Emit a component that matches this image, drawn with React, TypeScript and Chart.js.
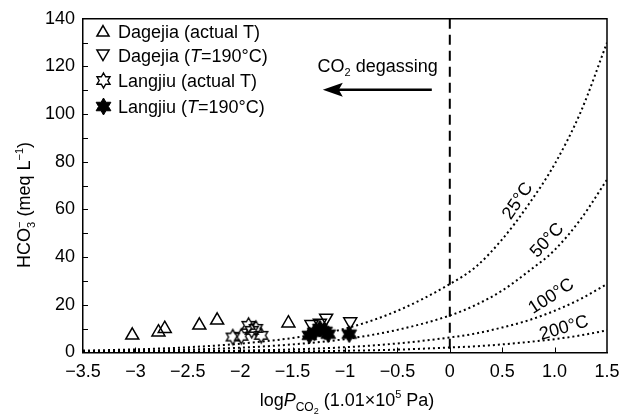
import React, { useEffect, useRef } from 'react';
import { Chart, registerables } from 'chart.js';

Chart.register(...registerables);

// ---- Data ----
const curveX = [-3.5, -3, -2.5, -2, -1.5, -1, -0.5, 0, 0.25, 0.5, 0.75, 1, 1.25, 1.5];
const curve25 = [0.8, 1.3, 2.2, 3.7, 6.1, 10, 17.5, 28.7, 36, 47.5, 62, 79, 101, 130];
const curve50 = [0.45, 0.7, 1.2, 2.0, 3.4, 5.6, 9.5, 15.5, 20, 26, 34, 43, 56, 72.5];
const curve100 = [0.2, 0.3, 0.5, 0.8, 1.3, 2.2, 3.8, 6.3, 8, 10.5, 13.5, 17.5, 22.5, 28.7];
const curve200 = [0.06, 0.1, 0.16, 0.27, 0.45, 0.73, 1.2, 2.1, 2.6, 3.4, 4.4, 5.6, 7.2, 9.3];
const curveLabels = ['25°C', '50°C', '100°C', '200°C'];

const dagejiaActualX = [-3.03, -2.78, -2.72, -2.39, -2.22, -1.54];
const dagejiaActualY = [7.2, 8.5, 10.0, 11.4, 13.5, 12.3];
const dagejia190X = [-1.32, -1.24, -1.18, -0.95];
const dagejia190Y = [11.8, 12.4, 14.5, 13.0];
const langjiuActualX = [-2.07, -1.99, -1.92, -1.89, -1.85, -1.80];
const langjiuActualY = [6.5, 6.8, 11.4, 9.3, 10.1, 7.2];
const langjiu190X = [-1.34, -1.29, -1.24, -1.19, -1.16, -0.96];
const langjiu190Y = [7.2, 8.5, 10.1, 8.9, 7.7, 7.7];

const seriesNames = ['Dagejia (actual T)', 'Dagejia (T=190°C)', 'Langjiu (actual T)', 'Langjiu (T=190°C)'];

const xTicks = [-3.5, -3, -2.5, -2, -1.5, -1, -0.5, 0, 0.5, 1, 1.5];
const xTickLabels = ['−3.5', '−3', '−2.5', '−2', '−1.5', '−1', '−0.5', '0', '0.5', '1.0', '1.5'];
const yTicks = [0, 20, 40, 60, 80, 100, 120, 140];
const yMinorTicks = [10, 20, 30, 40, 50, 60, 70, 80, 90, 100, 110, 120, 130];

const FAMILY = '"Liberation Sans", Arial, Helvetica, sans-serif';
const FS = 18;

type Seg = { t: string; size: number; italic?: boolean; dy?: number; noAdvance?: boolean };

function fontStr(s: Seg) {
  return `${s.italic ? 'italic ' : ''}${s.size}px ${FAMILY}`;
}
function segsWidth(ctx: CanvasRenderingContext2D, segs: Seg[]) {
  let w = 0;
  for (const s of segs) {
    ctx.font = fontStr(s);
    if (!s.noAdvance) w += ctx.measureText(s.t).width;
  }
  return w;
}
function drawSegs(ctx: CanvasRenderingContext2D, segs: Seg[], x: number, y: number) {
  let cx = x;
  for (const s of segs) {
    ctx.font = fontStr(s);
    ctx.fillText(s.t, cx, y + (s.dy || 0));
    if (!s.noAdvance) cx += ctx.measureText(s.t).width;
  }
}

function starPath(ctx: CanvasRenderingContext2D, cx: number, cy: number, R: number) {
  const r = R / Math.sqrt(3);
  ctx.beginPath();
  for (let i = 0; i < 12; i++) {
    const ang = -Math.PI / 2 + (i * Math.PI) / 6;
    const rad = i % 2 === 0 ? R : r;
    const x = cx + rad * Math.cos(ang);
    const y = cy + rad * Math.sin(ang);
    if (i === 0) ctx.moveTo(x, y);
    else ctx.lineTo(x, y);
  }
  ctx.closePath();
}

function makeStar(R: number, filled: boolean): HTMLCanvasElement {
  const size = Math.ceil(R * 2 + 4);
  const c = document.createElement('canvas');
  c.width = size;
  c.height = size;
  const ctx = c.getContext('2d')!;
  starPath(ctx, size / 2, size / 2, R);
  if (filled) {
    ctx.fillStyle = '#000';
    ctx.fill();
  }
  ctx.strokeStyle = '#000';
  ctx.lineWidth = filled ? 1 : 1.4;
  ctx.stroke();
  return c;
}

function triPath(ctx: CanvasRenderingContext2D, x: number, y: number, r: number, down: boolean) {
  ctx.beginPath();
  let rad = down ? Math.PI : 0;
  for (let i = 0; i < 3; i++) {
    const px = x + Math.sin(rad) * r;
    const py = y - Math.cos(rad) * r;
    if (i === 0) ctx.moveTo(px, py);
    else ctx.lineTo(px, py);
    rad += (2 * Math.PI) / 3;
  }
  ctx.closePath();
}

function toXY(xs: number[], ys: number[]) {
  return xs.map((x, i) => ({ x, y: ys[i] }));
}

export default function App() {
  const ref = useRef<HTMLCanvasElement | null>(null);

  useEffect(() => {
    const canvas = ref.current;
    if (!canvas) return;
    const openStar = makeStar(7.5, false);
    const filledStar = makeStar(8.5, true);
    const TRI_R = 7.5;

    const overlay = {
      id: 'overlay',
      afterDatasetsDraw(chart: any) {
        const ctx: CanvasRenderingContext2D = chart.ctx;
        const { left, right, top, bottom } = chart.chartArea;
        const xs = chart.scales.x;
        const ys = chart.scales.y;
        ctx.save();
        ctx.fillStyle = '#000';
        ctx.strokeStyle = '#000';

        // frame (top and right)
        ctx.lineWidth = 1.5;
        ctx.beginPath();
        ctx.moveTo(left, top);
        ctx.lineTo(right, top);
        ctx.lineTo(right, bottom);
        ctx.stroke();

        // inward ticks
        ctx.lineWidth = 1;
        ctx.beginPath();
        for (const v of xTicks) {
          const px = Math.round(xs.getPixelForValue(v)) + 0.5;
          if (px <= left + 1 || px >= right - 1) continue;
          ctx.moveTo(px, bottom);
          ctx.lineTo(px, bottom - 5);
        }
        for (const v of yMinorTicks) {
          const py = Math.round(ys.getPixelForValue(v)) + 0.5;
          ctx.moveTo(left, py);
          ctx.lineTo(left + 5, py);
        }
        ctx.stroke();

        // dashed vertical line at x = 0
        const x0 = xs.getPixelForValue(0);
        ctx.lineWidth = 2;
        ctx.setLineDash([10, 6]);
        ctx.beginPath();
        ctx.moveTo(x0, top);
        ctx.lineTo(x0, bottom);
        ctx.stroke();
        ctx.setLineDash([]);

        // arrow
        const ay = top + 71;
        const ax1 = x0 - 18;
        const ax2 = x0 - 127;
        ctx.lineWidth = 2.5;
        ctx.beginPath();
        ctx.moveTo(ax1, ay);
        ctx.lineTo(ax2 + 15, ay);
        ctx.stroke();
        ctx.beginPath();
        ctx.moveTo(ax2, ay);
        ctx.lineTo(ax2 + 20, ay - 7);
        ctx.lineTo(ax2 + 16, ay);
        ctx.lineTo(ax2 + 20, ay + 7);
        ctx.closePath();
        ctx.fill();

        // CO2 degassing
        ctx.textBaseline = 'alphabetic';
        ctx.textAlign = 'left';
        const degSegs: Seg[] = [
          { t: 'CO', size: FS },
          { t: '2', size: 11, dy: 4 },
          { t: ' degassing', size: FS },
        ];
        const dw = segsWidth(ctx, degSegs);
        drawSegs(ctx, degSegs, x0 - 12 - dw, top + 53);

        // curve labels
        const labelPos = [
          { x: 0.65, y: 63.5, a: -56 },
          { x: 0.93, y: 47.0, a: -47 },
          { x: 0.97, y: 23.5, a: -33 },
          { x: 1.09, y: 10.2, a: -16 },
        ];
        ctx.font = `${FS}px ${FAMILY}`;
        ctx.textAlign = 'center';
        ctx.textBaseline = 'middle';
        curveLabels.forEach((lab, i) => {
          const p = labelPos[i];
          ctx.save();
          ctx.translate(xs.getPixelForValue(p.x), ys.getPixelForValue(p.y));
          ctx.rotate((p.a * Math.PI) / 180);
          ctx.fillText(lab, 0, 0);
          ctx.restore();
        });

        // legend
        const rowY = [31, 55, 80, 106];
        const mx = 103;
        const tx = 118;
        ctx.textAlign = 'left';
        ctx.textBaseline = 'alphabetic';
        rowY.forEach((ry, i) => {
          ctx.lineWidth = 1.5;
          if (i === 0) {
            triPath(ctx, mx, ry + 1.5, 7, false);
            ctx.stroke();
          } else if (i === 1) {
            triPath(ctx, mx, ry - 1.5, 7, true);
            ctx.stroke();
          } else if (i === 2) {
            ctx.drawImage(openStar, Math.round(mx - openStar.width / 2), Math.round(ry - openStar.height / 2));
          } else {
            ctx.drawImage(filledStar, Math.round(mx - filledStar.width / 2), Math.round(ry - filledStar.height / 2));
          }
          const name = seriesNames[i];
          let segs: Seg[];
          if (name.includes('T=190')) {
            const [pre, post] = name.split('T=');
            segs = [
              { t: pre, size: FS },
              { t: 'T', size: FS, italic: true },
              { t: '=' + post, size: FS },
            ];
          } else {
            segs = [{ t: name, size: FS }];
          }
          drawSegs(ctx, segs, tx, ry + 6.5);
        });

        // x axis title
        const xt: Seg[] = [
          { t: 'log', size: FS },
          { t: 'P', size: FS, italic: true },
          { t: 'CO', size: 12, dy: 5 },
          { t: '2', size: 9, dy: 8 },
          { t: ' (1.01×10', size: FS },
          { t: '5', size: 11, dy: -8 },
          { t: ' Pa)', size: FS },
        ];
        const xw = segsWidth(ctx, xt);
        drawSegs(ctx, xt, (left + right) / 2 + 2 - xw / 2, 406);

        // y axis title
        const yt: Seg[] = [
          { t: 'HCO', size: FS },
          { t: '3', size: 11, dy: 5, noAdvance: true },
          { t: '−', size: 11, dy: -7 },
          { t: ' (meq L', size: FS },
          { t: '−1', size: 11, dy: -7 },
          { t: ')', size: FS },
        ];
        const yw = segsWidth(ctx, yt);
        ctx.save();
        ctx.translate(23, 205);
        ctx.rotate(-Math.PI / 2);
        drawSegs(ctx, yt, -yw / 2, 6.5);
        ctx.restore();

        ctx.restore();
      },
    };

    const curveDs = (data: number[]) => ({
      data: toXY(curveX, data),
      showLine: true,
      borderColor: '#000',
      borderWidth: 2,
      borderDash: [2, 3],
      pointRadius: 0,
      cubicInterpolationMode: 'monotone' as const,
      fill: false,
      order: 2,
    });

    const chart = new Chart(canvas, {
      type: 'scatter',
      data: {
        datasets: [
          {
            label: seriesNames[0],
            data: toXY(dagejiaActualX, dagejiaActualY),
            pointStyle: 'triangle',
            pointRadius: TRI_R,
            borderColor: '#000',
            backgroundColor: 'rgba(0,0,0,0)',
            borderWidth: 1.5,
            order: 1,
          },
          {
            label: seriesNames[1],
            data: toXY(dagejia190X, dagejia190Y),
            pointStyle: 'triangle',
            rotation: 180,
            pointRadius: TRI_R,
            borderColor: '#000',
            backgroundColor: 'rgba(0,0,0,0)',
            borderWidth: 1.5,
            order: 1,
          },
          {
            label: seriesNames[2],
            data: toXY(langjiuActualX, langjiuActualY),
            pointStyle: openStar as any,
            order: 1,
          },
          {
            label: seriesNames[3],
            data: toXY(langjiu190X, langjiu190Y),
            pointStyle: filledStar as any,
            order: 0,
          },
          { label: curveLabels[0], ...curveDs(curve25) },
          { label: curveLabels[1], ...curveDs(curve50) },
          { label: curveLabels[2], ...curveDs(curve100) },
          { label: curveLabels[3], ...curveDs(curve200) },
        ] as any,
      },
      options: {
        animation: false,
        responsive: false,
        devicePixelRatio: 1,
        events: [],
        layout: { padding: { top: 14, right: 23, left: 0, bottom: 0 } },
        plugins: {
          legend: { display: false },
          tooltip: { enabled: false },
        },
        scales: {
          x: {
            type: 'linear',
            min: -3.5,
            max: 1.5,
            afterBuildTicks: (s: any) => {
              s.ticks = xTicks.map((v) => ({ value: v }));
            },
            afterFit: (s: any) => {
              s.height = 418 - 352.5;
            },
            ticks: {
              autoSkip: false,
              maxRotation: 0,
              padding: 9,
              color: '#000',
              font: { family: FAMILY, size: FS },
              callback: (v: any) => {
                const i = xTicks.indexOf(Number(v));
                return i >= 0 ? xTickLabels[i] : '';
              },
            },
            grid: { drawOnChartArea: false, drawTicks: false },
            border: { color: '#000', width: 1.5 },
          },
          y: {
            type: 'linear',
            min: 0,
            max: 140,
            afterBuildTicks: (s: any) => {
              s.ticks = yTicks.map((v) => ({ value: v }));
            },
            afterFit: (s: any) => {
              s.width = 83;
            },
            ticks: {
              padding: 8,
              color: '#000',
              font: { family: FAMILY, size: FS },
            },
            grid: { drawOnChartArea: false, drawTicks: false },
            border: { color: '#000', width: 1.5 },
          },
        },
      } as any,
      plugins: [overlay],
    });

    return () => chart.destroy();
  }, []);

  return (
    <div style={{ position: 'fixed', left: 0, top: 0, width: 630, height: 418, background: '#fff' }}>
      <canvas ref={ref} width={630} height={418} style={{ width: 630, height: 418, display: 'block' }} />
    </div>
  );
}
